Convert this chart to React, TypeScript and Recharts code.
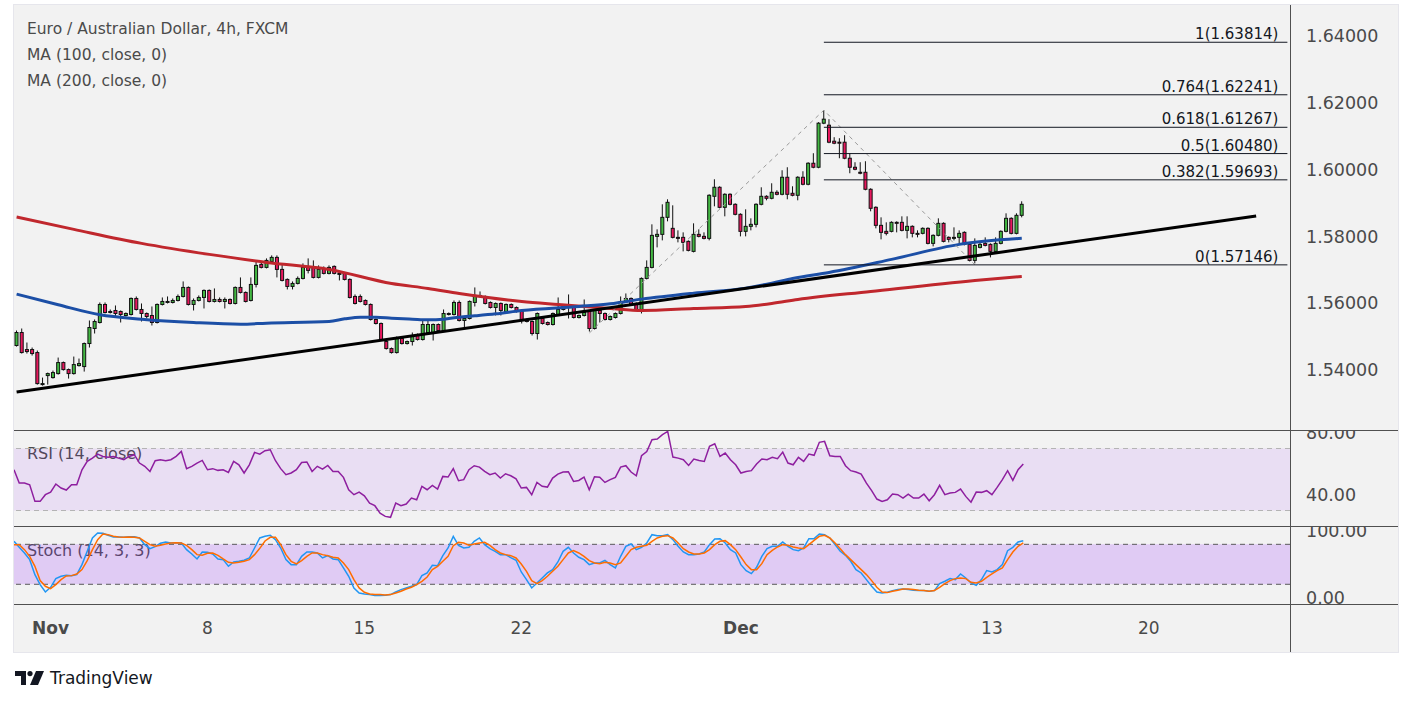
import React from 'react';
import { ComposedChart, Bar, Line, XAxis, YAxis, ReferenceLine, ReferenceArea } from 'recharts';

const FONT = '"DejaVu Sans", sans-serif';

// ---- candles (4h EUR/AUD), oldest first ----
const OPEN = [
  1.5473,1.5512,1.5461,1.5461,1.5452,1.5356,1.5383,1.5377,1.5389,1.5422,
  1.5401,1.5389,1.5413,1.5410,1.5479,1.5524,1.5542,1.5596,1.5575,1.5578,
  1.5575,1.5563,1.5566,1.5614,1.5581,1.5569,1.5563,1.5542,1.5596,1.5602,
  1.5602,1.5608,1.5620,1.5647,1.5596,1.5608,1.5617,1.5638,1.5605,1.5611,
  1.5605,1.5611,1.5599,1.5647,1.5632,1.5608,1.5656,1.5716,1.5707,1.5725,
  1.5737,1.5701,1.5671,1.5650,1.5659,1.5674,1.5707,1.5707,1.5677,1.5701,
  1.5689,1.5710,1.5689,1.5689,1.5671,1.5620,1.5620,1.5608,1.5596,1.5551,
  1.5539,1.5485,1.5464,1.5452,1.5494,1.5479,1.5485,1.5506,1.5491,1.5512,
  1.5512,1.5536,1.5518,1.5566,1.5566,1.5602,1.5548,1.5554,1.5602,1.5620,
  1.5620,1.5602,1.5587,1.5599,1.5575,1.5596,1.5587,1.5575,1.5548,1.5545,
  1.5509,1.5554,1.5542,1.5536,1.5566,1.5581,1.5590,1.5590,1.5557,1.5563,
  1.5575,1.5524,1.5578,1.5569,1.5551,1.5557,1.5569,1.5605,1.5614,1.5599,
  1.5581,1.5674,1.5707,1.5800,1.5806,1.5857,1.5824,1.5797,1.5797,1.5785,
  1.5755,1.5806,1.5800,1.5794,1.5920,1.5947,1.5887,1.5926,1.5896,1.5866,
  1.5815,1.5830,1.5836,1.5896,1.5920,1.5914,1.5932,1.5926,1.5977,1.5929,
  1.5923,1.5977,1.5956,1.6019,1.6007,1.6139,1.6133,1.6085,1.6082,1.6082,
  1.6034,1.6007,1.5992,1.5992,1.5941,1.5887,1.5833,1.5815,1.5815,1.5842,
  1.5842,1.5818,1.5830,1.5809,1.5809,1.5824,1.5779,1.5803,1.5839,1.5797,
  1.5794,1.5797,1.5812,1.5776,1.5728,1.5767,1.5779,1.5776,1.5755,1.5779,
  1.5815,1.5854,1.5809,1.5863,
];
const HIGH = [
  1.5518,1.5524,1.5482,1.5467,1.5458,1.5377,1.5392,1.5398,1.5437,1.5425,
  1.5404,1.5440,1.5434,1.5482,1.5548,1.5551,1.5602,1.5602,1.5581,1.5593,
  1.5578,1.5572,1.5617,1.5620,1.5599,1.5572,1.5590,1.5599,1.5617,1.5620,
  1.5614,1.5626,1.5665,1.5650,1.5614,1.5623,1.5641,1.5641,1.5644,1.5617,
  1.5617,1.5614,1.5650,1.5677,1.5635,1.5677,1.5725,1.5722,1.5734,1.5743,
  1.5743,1.5719,1.5674,1.5665,1.5680,1.5719,1.5734,1.5728,1.5713,1.5710,
  1.5713,1.5713,1.5692,1.5692,1.5674,1.5626,1.5626,1.5611,1.5599,1.5554,
  1.5542,1.5488,1.5467,1.5500,1.5497,1.5488,1.5512,1.5509,1.5551,1.5551,
  1.5539,1.5539,1.5581,1.5572,1.5608,1.5608,1.5557,1.5608,1.5647,1.5635,
  1.5623,1.5605,1.5602,1.5602,1.5599,1.5599,1.5590,1.5578,1.5554,1.5548,
  1.5572,1.5557,1.5545,1.5572,1.5617,1.5593,1.5626,1.5593,1.5566,1.5611,
  1.5578,1.5581,1.5581,1.5572,1.5563,1.5572,1.5620,1.5629,1.5617,1.5602,
  1.5677,1.5728,1.5836,1.5821,1.5896,1.5911,1.5893,1.5818,1.5812,1.5788,
  1.5839,1.5821,1.5812,1.5926,1.5971,1.5950,1.5929,1.5929,1.5899,1.5869,
  1.5881,1.5854,1.5899,1.5947,1.5923,1.5959,1.5938,1.5998,1.6007,1.5950,
  1.5980,1.5995,1.6022,1.6049,1.6142,1.6178,1.6151,1.6097,1.6094,1.6103,
  1.6049,1.6022,1.6022,1.6025,1.5944,1.5890,1.5857,1.5842,1.5845,1.5845,
  1.5860,1.5860,1.5833,1.5818,1.5827,1.5827,1.5806,1.5854,1.5842,1.5800,
  1.5827,1.5818,1.5815,1.5779,1.5794,1.5782,1.5797,1.5779,1.5797,1.5818,
  1.5869,1.5857,1.5869,1.5905,
];
const LOW = [
  1.5470,1.5449,1.5449,1.5443,1.5356,1.5353,1.5356,1.5374,1.5386,1.5398,
  1.5374,1.5386,1.5410,1.5395,1.5467,1.5509,1.5539,1.5569,1.5569,1.5557,
  1.5542,1.5560,1.5563,1.5578,1.5545,1.5554,1.5533,1.5539,1.5593,1.5599,
  1.5599,1.5605,1.5617,1.5593,1.5578,1.5605,1.5584,1.5602,1.5602,1.5602,
  1.5584,1.5596,1.5596,1.5629,1.5602,1.5605,1.5647,1.5704,1.5704,1.5722,
  1.5677,1.5665,1.5641,1.5641,1.5656,1.5671,1.5689,1.5674,1.5674,1.5686,
  1.5686,1.5686,1.5668,1.5668,1.5614,1.5596,1.5602,1.5593,1.5548,1.5536,
  1.5488,1.5461,1.5449,1.5449,1.5476,1.5476,1.5473,1.5488,1.5488,1.5509,
  1.5488,1.5515,1.5515,1.5563,1.5563,1.5545,1.5527,1.5551,1.5590,1.5617,
  1.5596,1.5584,1.5563,1.5563,1.5572,1.5584,1.5572,1.5539,1.5542,1.5503,
  1.5491,1.5536,1.5533,1.5533,1.5563,1.5578,1.5554,1.5554,1.5554,1.5560,
  1.5515,1.5521,1.5542,1.5548,1.5548,1.5554,1.5566,1.5602,1.5593,1.5578,
  1.5569,1.5671,1.5704,1.5767,1.5788,1.5845,1.5794,1.5782,1.5755,1.5755,
  1.5752,1.5797,1.5791,1.5788,1.5890,1.5884,1.5860,1.5893,1.5863,1.5800,
  1.5800,1.5818,1.5827,1.5893,1.5908,1.5911,1.5923,1.5923,1.5911,1.5920,
  1.5908,1.5953,1.5953,1.6004,1.6004,1.6136,1.6079,1.6076,1.6034,1.6031,
  1.5989,1.5998,1.5986,1.5938,1.5875,1.5824,1.5791,1.5803,1.5812,1.5812,
  1.5815,1.5794,1.5797,1.5797,1.5806,1.5776,1.5770,1.5800,1.5782,1.5782,
  1.5788,1.5779,1.5773,1.5725,1.5719,1.5764,1.5770,1.5737,1.5752,1.5776,
  1.5812,1.5806,1.5806,1.5857,
];
const CLOSE = [
  1.5512,1.5452,1.5455,1.5449,1.5359,1.5359,1.5389,1.5392,1.5422,1.5401,
  1.5389,1.5416,1.5419,1.5479,1.5527,1.5545,1.5596,1.5572,1.5572,1.5569,
  1.5566,1.5569,1.5614,1.5581,1.5569,1.5560,1.5542,1.5596,1.5605,1.5605,
  1.5608,1.5620,1.5647,1.5596,1.5608,1.5617,1.5638,1.5605,1.5611,1.5605,
  1.5611,1.5599,1.5647,1.5632,1.5605,1.5656,1.5713,1.5707,1.5728,1.5737,
  1.5701,1.5668,1.5650,1.5659,1.5674,1.5707,1.5698,1.5677,1.5701,1.5689,
  1.5707,1.5689,1.5688,1.5671,1.5617,1.5599,1.5605,1.5596,1.5551,1.5539,
  1.5491,1.5464,1.5452,1.5494,1.5479,1.5485,1.5500,1.5491,1.5536,1.5536,
  1.5536,1.5518,1.5569,1.5569,1.5602,1.5548,1.5554,1.5605,1.5623,1.5623,
  1.5599,1.5587,1.5599,1.5578,1.5596,1.5587,1.5575,1.5548,1.5545,1.5509,
  1.5569,1.5539,1.5536,1.5569,1.5581,1.5590,1.5588,1.5557,1.5563,1.5572,
  1.5524,1.5578,1.5569,1.5551,1.5560,1.5569,1.5605,1.5614,1.5596,1.5581,
  1.5674,1.5707,1.5803,1.5806,1.5857,1.5902,1.5797,1.5794,1.5782,1.5758,
  1.5806,1.5800,1.5794,1.5923,1.5947,1.5887,1.5926,1.5896,1.5866,1.5815,
  1.5830,1.5836,1.5896,1.5920,1.5914,1.5932,1.5926,1.5977,1.5926,1.5923,
  1.5977,1.5956,1.6019,1.6007,1.6139,1.6151,1.6082,1.6079,1.6081,1.6034,
  1.6007,1.6001,1.5989,1.5941,1.5884,1.5833,1.5812,1.5809,1.5842,1.5839,
  1.5818,1.5830,1.5809,1.5808,1.5824,1.5779,1.5803,1.5839,1.5785,1.5791,
  1.5797,1.5809,1.5776,1.5728,1.5773,1.5776,1.5773,1.5755,1.5779,1.5815,
  1.5854,1.5809,1.5863,1.5896,
];

// ---- moving averages (read at sample candles) ----
const MA100_IDX = [0, 8, 16, 24, 34, 43, 48, 60, 63, 66, 69, 72, 76, 79, 82, 85, 88, 92, 97, 108, 114, 120, 130, 140, 145, 149, 156, 168, 181, 193];
const MA100_VAL = [1.5627, 1.5595, 1.5565, 1.5552, 1.5542, 1.5537, 1.5540, 1.5545, 1.5553, 1.5558, 1.5558, 1.5555, 1.5552, 1.5550, 1.5552, 1.5558, 1.5562, 1.5568, 1.5578, 1.5590, 1.5598, 1.5612, 1.5630, 1.5645, 1.5660, 1.5674, 1.5692, 1.5731, 1.5776, 1.5794];
const MA200_IDX = [0, 11, 24, 37, 48, 60, 72, 79, 85, 97, 104, 114, 120, 130, 140, 145, 150, 164, 184, 193];
const MA200_VAL = [1.5858, 1.5821, 1.5779, 1.5746, 1.5722, 1.5701, 1.5659, 1.5644, 1.5629, 1.5605, 1.5596, 1.5584, 1.5578, 1.5584, 1.5590, 1.5599, 1.5611, 1.5635, 1.5668, 1.5680];

// ---- RSI (14) ----
const RSI = [
  56.3,47.7,47.7,46.6,35.9,35.9,40.2,41.9,47.1,44.5,
  43.2,46.6,46.6,56.3,61.7,63.8,66.4,64.9,64.3,64.9,
  63.8,62.8,64.9,66.0,60.6,58.5,55.2,62.1,62.8,62.1,
  62.8,64.9,68.1,57.0,58.5,60.6,62.3,56.3,57.0,55.9,
  56.3,54.6,61.7,59.5,54.2,59.5,67.5,66.4,68.6,69.2,
  62.1,57.0,53.1,54.2,56.3,61.0,61.3,55.2,58.5,56.7,
  59.1,55.2,55.2,51.4,43.4,40.2,41.9,39.5,34.8,33.1,
  28.3,26.2,25.6,34.8,33.1,34.2,38.0,36.9,45.6,43.4,
  46.2,43.8,52.0,51.6,57.0,49.2,49.9,56.3,58.9,58.0,
  55.2,53.1,54.2,50.9,53.7,52.4,50.4,44.5,44.9,40.2,
  48.1,45.6,45.1,50.9,53.5,54.8,55.0,48.8,49.4,51.6,
  43.4,51.8,51.4,48.1,49.9,51.4,58.0,58.9,54.8,52.4,
  65.3,68.1,75.7,76.1,78.9,81.0,64.5,63.8,62.8,59.1,
  63.2,62.3,61.7,71.4,73.1,64.9,67.1,62.8,59.5,54.2,
  55.2,55.7,60.0,63.2,62.8,64.3,63.4,67.7,60.6,59.5,
  64.3,61.7,66.4,65.6,74.0,74.6,65.3,64.9,64.9,58.9,
  55.7,54.8,53.5,47.7,42.8,37.4,35.9,36.9,40.6,40.2,
  38.0,40.6,38.0,38.0,40.6,36.3,40.2,46.2,40.2,41.3,
  41.7,43.8,39.1,35.4,41.9,41.7,42.8,40.2,44.9,49.9,
  55.7,49.4,56.3,60.0,
];

// ---- Stochastic (14, 3, 3) ----
const STOCH_K = [
  84.5,75.5,67,57,34.5,19.5,8.5,15.5,28.5,32,
  33.5,33,34.5,49.5,69.5,89.5,97,96.5,93.5,91,
  91,90.5,91.5,91.5,89.5,79.5,73.5,76.5,81.5,83.5,
  82,82.5,82,72,65.5,58,68.5,68,65.5,58,
  57,47,53.5,54.5,56,59.5,74.5,89.5,92,93.5,
  87,74.5,57,49.5,49.5,62,68.5,68.5,67,59.5,
  63,58,57,44.5,32,14.5,7,5.5,4.5,3,
  3,3.5,4.5,8.5,12,14.5,17,19.5,33,37,
  48.5,48,63,74.5,92,78.5,74.5,75.5,84.5,89.5,
  79.5,73.5,69.5,64.5,64.5,60,56,38.5,27,14.5,
  22,29.5,37,42,53.5,69.5,75.5,67,60.5,57,
  49.5,52,52,56,49.5,44.5,62,77,80.5,72,
  75.5,82,94.5,93,93,94.5,87,77,68.5,64.5,
  64.5,65.5,68.5,79.5,88,88.5,82,72,67,49.5,
  40.5,36,45.5,62,73.5,77,77,83.5,77,72,
  70.5,74.5,88.5,88.5,95.5,94.5,89.5,79.5,69.5,63.5,
  54.5,42,37,27,17,8.5,7,8,10.5,12,
  13,12,11,10.5,10.5,9.5,10.5,21,24.5,28.5,
  27,35.5,29.5,22,18.5,27,40.5,38.5,42,49.5,
  70.5,75.5,83.5,85.5,
];
const STOCH_D = [
  79.5,79.5,72,62,47,25.5,17,13.5,19.5,27,
  32.5,33,35.5,42,55.5,72,87,95.5,94.5,92,
  91,90.5,91,90.5,89.5,84.5,79.5,77,78.5,80.5,
  82,82.5,82,78.5,72,64.5,63.5,66.5,67,63.5,
  58,53,52,53,54.5,57,64.5,74,85,90.5,
  90.5,79.5,64.5,54.5,50.5,55.5,62,67,67,64.5,
  63,60.5,59.5,52,42,27,14.5,8,5.5,4.5,
  4.5,4,4.5,7,9.5,13,15.5,19.5,24.5,31,
  42,47,54.5,62,78,83,82,78.5,80.5,82,
  83,78.5,72,67,64.5,63,59.5,50.5,39.5,25.5,
  21,25.5,32,39.5,47,57,67,70.5,67,62,
  55.5,52,51,53,52,49.5,52,62,72,75.5,
  77,78.5,84.5,89.5,92,93,89.5,82,73.5,68.5,
  65.5,65.5,67,72,79.5,84.5,85.5,79.5,72,61,
  49.5,42,42,51,64.5,71,76,79.5,78.5,76,
  74.5,73.5,79.5,86,92,93.5,89.5,82,73.5,64.5,
  57,49.5,42,34.5,25.5,15.5,8.5,7.5,9.5,11,
  13,13,12,11,10.5,9.5,10.5,15.5,21,25.5,
  28.5,29.5,28.5,23,22,24.5,30.5,35.5,40.5,44.5,
  57,68.5,77,82,
];

// ---- drawings ----
const TREND_IDX = [0, 238];
const TREND_VAL = [1.5334, 1.5861];
const FIB_PATH_IDX = [110, 155, 184];
const FIB_PATH_VAL = [1.5511, 1.6178, 1.57146];
const FIB_RATIOS = ['1', '0.764', '0.618', '0.5', '0.382', '0'];
const FIB_PRICES = [1.63814, 1.62241, 1.61267, 1.6048, 1.59693, 1.57146];
const FIB_START = 155;

// ---- axes ----
const SLOTS = 245;
const PRICE_TICKS = [1.54, 1.56, 1.58, 1.6, 1.62, 1.64];
const RSI_TICKS = [40, 80];
const STOCH_TICKS = [0, 100];
const XTICK_IDX = [7, 37, 67, 97, 139, 187, 217];
const XTICK_LABELS = ['Nov', '8', '15', '22', 'Dec', '13', '20'];

const toMap = (ks: number[], vs: number[]) => new Map(ks.map((k, j) => [k, vs[j]]));
const ma100Map = toMap(MA100_IDX, MA100_VAL);
const ma200Map = toMap(MA200_IDX, MA200_VAL);
const fibMap = toMap(FIB_PATH_IDX, FIB_PATH_VAL);

const rows = Array.from({ length: SLOTS }, (_, i) => ({
  i,
  o: OPEN[i],
  h: HIGH[i],
  l: LOW[i],
  c: CLOSE[i],
  rsi: RSI[i],
  k: STOCH_K[i],
  d: STOCH_D[i],
  ma100: ma100Map.get(i),
  ma200: ma200Map.get(i),
  fib: fibMap.get(i),
}));

const W = 1384;
const AXIS_W = 108;
const M0 = { top: 0, right: 0, bottom: 0, left: 0 };

function Candle(props: any) {
  const { x, y, width, height, payload } = props;
  if (!payload || payload.o == null || x == null || y == null) return null;
  let top = y;
  let hgt = height;
  if (hgt < 0) {
    top = y + hgt;
    hgt = -hgt;
  }
  const { o, c } = payload;
  const hi = payload.h;
  const lo = payload.l;
  const span = hi - lo;
  const toY = (p: number) => (span > 0 ? top + ((hi - p) / span) * hgt : top);
  const bTop = toY(Math.max(o, c));
  const bBot = toY(Math.min(o, c));
  const cx = x + width / 2;
  const up = c >= o;
  return (
    <g>
      <line x1={cx} x2={cx} y1={top} y2={top + hgt} stroke="#111" strokeWidth={1} />
      <rect
        x={x}
        y={bTop}
        width={width}
        height={Math.max(bBot - bTop, 1)}
        fill={up ? '#43b843' : '#e8185e'}
        stroke="#111"
        strokeWidth={1}
      />
    </g>
  );
}

function XTick(props: any) {
  const { x, y, payload } = props;
  const idx = XTICK_IDX.indexOf(Number(payload.value));
  if (idx < 0) return null;
  const label = XTICK_LABELS[idx];
  const bold = isNaN(Number(label));
  return (
    <text x={x} y={y} dy={29} textAnchor="middle" fill="#4a4a4a" fontSize={17} fontWeight={bold ? 700 : 400} fontFamily={FONT}>
      {label}
    </text>
  );
}

const fibLabel = (text: string) => (props: any) => {
  const vb = props.viewBox || props;
  return (
    <text x={vb.x + vb.width - 9} y={vb.y - 3} textAnchor="end" fill="#131722" fontSize={15} fontFamily={FONT}>
      {text}
    </text>
  );
};

const yTick = { fill: '#4a4a4a', fontSize: 17.5, fontFamily: FONT };

export default function App() {
  const abs = (left: number, top: number, extra: React.CSSProperties = {}): React.CSSProperties => ({
    position: 'absolute',
    left,
    top,
    ...extra,
  });
  return (
    <div style={{ position: 'absolute', left: 0, top: 0, width: 1413, height: 705, background: '#fff', overflow: 'hidden' }}>
      {/* panel */}
      <div style={abs(14, 5, { width: W, height: 647, background: '#f2f2f2', boxShadow: '0 0 0 1px #e6e6ec' })} />

      {/* legends (under the charts) */}
      <div style={abs(27, 16, { fontFamily: FONT, fontSize: 15.5, lineHeight: '26px', color: '#4a4a4a', whiteSpace: 'nowrap' })}>
        <div>Euro / Australian Dollar, 4h, FXCM</div>
        <div>MA (100, close, 0)</div>
        <div>MA (200, close, 0)</div>
      </div>
      <div style={abs(27, 444, { fontFamily: FONT, fontSize: 16, lineHeight: '20px', color: '#4a4a4a', whiteSpace: 'nowrap' })}>
        RSI (14, close)
      </div>
      <div style={abs(27, 541, { fontFamily: FONT, fontSize: 16, lineHeight: '20px', color: '#4a4a4a', whiteSpace: 'nowrap' })}>
        Stoch (14, 3, 3)
      </div>

      {/* main price pane */}
      <div style={abs(14, 5)}>
        <ComposedChart width={W} height={426} data={rows} margin={M0}>
          <XAxis dataKey="i" type="category" hide />
          <YAxis
            orientation="right"
            type="number"
            domain={[1.5217, 1.6493]}
            allowDataOverflow
            ticks={PRICE_TICKS}
            interval={0}
            tickFormatter={(v: number) => v.toFixed(5)}
            width={AXIS_W}
            axisLine={false}
            tickLine={false}
            tickSize={6}
            tickMargin={10}
            tick={yTick}
          />
          <Line dataKey="ma200" type="monotone" connectNulls stroke="#c0272d" strokeWidth={3} dot={false} activeDot={false} isAnimationActive={false} />
          <Line dataKey="ma100" type="monotone" connectNulls stroke="#1c4fa6" strokeWidth={3} dot={false} activeDot={false} isAnimationActive={false} />
          <Bar dataKey={(r: any) => (r.o == null ? null : [r.l, r.h])} barSize={3} shape={Candle} isAnimationActive={false} />
          <Line dataKey="fib" type="linear" connectNulls stroke="#9a9a9a" strokeWidth={1} strokeDasharray="4 4" dot={false} activeDot={false} isAnimationActive={false} />
          {FIB_PRICES.map((p, j) => (
            <ReferenceLine
              key={'fib' + j}
              segment={[{ x: FIB_START, y: p }, { x: SLOTS - 1, y: p }]}
              stroke="#131722"
              strokeWidth={1}
              ifOverflow="visible"
              label={fibLabel(`${FIB_RATIOS[j]}(${p.toFixed(5)})`)}
            />
          ))}
          <ReferenceLine
            segment={[{ x: TREND_IDX[0], y: TREND_VAL[0] }, { x: TREND_IDX[1], y: TREND_VAL[1] }]}
            stroke="#000"
            strokeWidth={3}
            ifOverflow="visible"
          />
        </ComposedChart>
      </div>

      {/* RSI pane */}
      <div style={abs(14, 431)}>
        <ComposedChart width={W} height={95} data={rows} margin={M0}>
          <XAxis dataKey="i" type="category" hide />
          <YAxis
            orientation="right"
            type="number"
            domain={[20, 81.3]}
            allowDataOverflow
            ticks={RSI_TICKS}
            interval={0}
            tickFormatter={(v: number) => v.toFixed(2)}
            width={AXIS_W}
            axisLine={false}
            tickLine={false}
            tickSize={6}
            tickMargin={10}
            tick={yTick}
          />
          <ReferenceArea y1={30} y2={70} fill="#9933ff" fillOpacity={0.1} stroke="none" ifOverflow="visible" />
          <ReferenceLine y={70} stroke="#b4b4b4" strokeDasharray="5 4" />
          <ReferenceLine y={30} stroke="#b4b4b4" strokeDasharray="5 4" />
          <Line dataKey="rsi" type="linear" stroke="#8e1f9f" strokeWidth={1.5} dot={false} activeDot={false} isAnimationActive={false} />
        </ComposedChart>
      </div>

      {/* Stoch pane */}
      <div style={abs(14, 526)}>
        <ComposedChart width={W} height={78} data={rows} margin={M0}>
          <XAxis dataKey="i" type="category" hide />
          <YAxis
            orientation="right"
            type="number"
            domain={[-9.6, 107.5]}
            allowDataOverflow
            ticks={STOCH_TICKS}
            interval={0}
            tickFormatter={(v: number) => v.toFixed(2)}
            width={AXIS_W}
            axisLine={false}
            tickLine={false}
            tickSize={6}
            tickMargin={10}
            tick={yTick}
          />
          <ReferenceArea y1={20} y2={80} fill="#9933ff" fillOpacity={0.2} stroke="none" ifOverflow="visible" />
          <ReferenceLine y={80} stroke="#5a5a5a" strokeDasharray="5 4" />
          <ReferenceLine y={20} stroke="#5a5a5a" strokeDasharray="5 4" />
          <Line dataKey="k" type="linear" stroke="#2196f3" strokeWidth={1.5} dot={false} activeDot={false} isAnimationActive={false} />
          <Line dataKey="d" type="linear" stroke="#ff6d00" strokeWidth={1.5} dot={false} activeDot={false} isAnimationActive={false} />
        </ComposedChart>
      </div>

      {/* time axis */}
      <div style={abs(14, 604)}>
        <ComposedChart width={W} height={48} data={rows} margin={{ top: 0, right: AXIS_W, bottom: 0, left: 0 }}>
          <XAxis
            dataKey="i"
            type="category"
            ticks={XTICK_IDX}
            interval={0}
            height={47}
            axisLine={false}
            tickLine={false}
            tickSize={0}
            tickMargin={0}
            tick={<XTick />}
          />
          <YAxis hide domain={[0, 100]} />
          <Line dataKey="k" stroke="none" dot={false} activeDot={false} isAnimationActive={false} />
        </ComposedChart>
      </div>

      {/* pane separators */}
      <div style={abs(14, 430, { width: W, height: 1.3, background: '#505050' })} />
      <div style={abs(14, 525.5, { width: W, height: 1.3, background: '#505050' })} />
      <div style={abs(14, 603.5, { width: W, height: 1.3, background: '#505050' })} />
      <div style={abs(1290, 5, { width: 1.3, height: 647, background: '#505050' })} />

      {/* footer */}
      <svg style={abs(15, 671)} width={30} height={14} viewBox="0 0 30 14">
        <path d="M0 0 H11 V14 H6 V5 H0 Z" fill="#131722" />
        <circle cx={15} cy={2.6} r={2.6} fill="#131722" />
        <path d="M21 0 H29 L23 14 H15 Z" fill="#131722" />
      </svg>
      <div style={abs(50, 668, { fontFamily: FONT, fontSize: 17, lineHeight: '20px', color: '#131722', whiteSpace: 'nowrap' })}>
        TradingView
      </div>
    </div>
  );
}
